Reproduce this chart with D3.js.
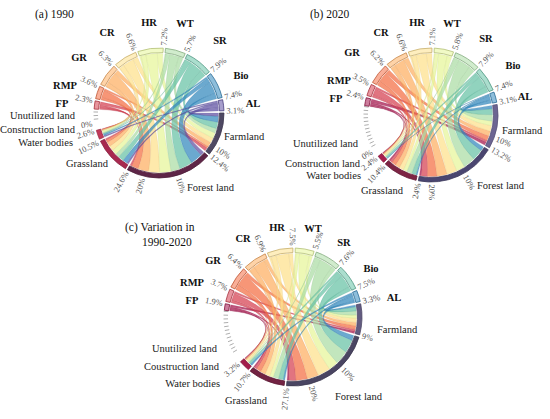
<!DOCTYPE html>
<html>
<head>
<meta charset="utf-8">
<script src="https://cdn.jsdelivr.net/npm/d3@7"></script>
<style>
  body { margin: 0; background: #fff; }
  svg { display: block; font-family: "Liberation Serif", "Times New Roman", serif; }
</style>
</head>
<body>
<div id="chart"></div>
<script>
// ecosystem services (sectors on the upper half) and land uses (lower half)
const services = ["FP", "RMP", "GR", "CR", "HR", "WT", "SR", "Bio", "AL"];
const landUses = ["Farmland", "Forest land", "Grassland", "Water bodies", "Construction land", "Unutilized land"];
const landUsesVar = ["Farmland", "Forest land", "Grassland", "Water bodies", "Coustruction land", "Unutilized land"];

// share of total value (%) per sector
const serviceTotals1990 = [2.3, 3.6, 6.3, 6.6, 7.2, 5.7, 7.9, 7.4, 3.1];
const landTotals1990 = [12.4, 24.6, 10.5, 2.6, 0, 0];
const serviceTotals2020 = [2.4, 3.5, 6.2, 6.6, 7.1, 5.8, 7.9, 7.4, 3.1];
const landTotals2020 = [13.2, 24.0, 10.4, 2.4, 0, 0];
const serviceTotalsVar = [1.9, 3.7, 6.4, 6.9, 7.5, 5.5, 7.6, 7.5, 3.3];
const landTotalsVar = [9.0, 27.1, 10.7, 3.2, 0, 0];

// flows service -> land use (Farmland, Forest land, Grassland, Water bodies), estimated
const flows1990 = [
  [1.0, 0.6, 0.5, 0.2],
  [0.6, 2.1, 0.8, 0.1],
  [1.4, 3.3, 1.4, 0.2],
  [1.5, 3.4, 1.5, 0.2],
  [1.7, 3.5, 1.5, 0.5],
  [1.4, 2.8, 1.2, 0.3],
  [2.0, 4.0, 1.7, 0.2],
  [1.8, 3.7, 1.4, 0.5],
  [1.0, 1.2, 0.5, 0.4],
];
const flows2020 = [
  [1.1, 0.6, 0.5, 0.2],
  [0.6, 2.0, 0.8, 0.1],
  [1.5, 3.1, 1.4, 0.2],
  [1.6, 3.3, 1.5, 0.2],
  [1.8, 3.3, 1.5, 0.5],
  [1.5, 2.8, 1.2, 0.3],
  [2.1, 3.9, 1.7, 0.2],
  [1.9, 3.6, 1.4, 0.5],
  [1.1, 1.4, 0.4, 0.2],
];
const flowsVar = [
  [0.7, 0.6, 0.4, 0.2],
  [0.6, 2.2, 0.8, 0.1],
  [1.1, 3.6, 1.5, 0.2],
  [1.1, 3.6, 1.6, 0.3],
  [1.3, 4.0, 1.6, 0.6],
  [1.0, 3.1, 1.1, 0.3],
  [1.3, 4.3, 1.7, 0.3],
  [1.3, 4.1, 1.5, 0.6],
  [0.6, 1.6, 0.5, 0.6],
];

const paletteA = ["#d53e4f", "#f46d43", "#fdae61", "#fee08b", "#e6f598", "#abdda4", "#66c2a5", "#3288bd", "#5e4fa2"];
const paletteB = ["#a3124a", "#d53e4f", "#f46d43", "#fdae61", "#fee08b", "#e6f598", "#abdda4", "#66c2a5", "#3288bd"];
const ringA = ["#4e4862", "#5e2547", "#a8294f", "#c33a5a"];
const ringB = ["#6c6592", "#4a4670", "#7d2444", "#a81e4d"];
const ringC = ["#625b80", "#4a4562", "#722242", "#a31d4b"];

const W = 550, H = 419;
const deg = Math.PI / 180;
const fmt = (v) => Math.round(v * 10) / 10 + "%";
const toD3 = (a) => (a + 90) * deg; // clockwise from 3 o'clock -> d3 angle
const pt = (r, a) => [r * Math.cos(a * deg), r * Math.sin(a * deg)];
const norm = (a) => ((a % 360) + 360) % 360;
const leftSide = (a) => norm(a) > 90 && norm(a) < 270;

const svg = d3.select("#chart").append("svg").attr("width", W).attr("height", H);

function drawChord({ layout, serviceTotals, landTotals, flows, palette, rings, names, nameOffsets, landLabels }) {
  const { cx, cy, R, start, blank, gap, zeroLabel } = layout;
  const sum = d3.sum(serviceTotals) + d3.sum(landTotals);
  const span = d3.scaleLinear().domain([0, sum]).range([0, 360 - blank - gap * 14]);

  const g = svg.append("g").attr("transform", `translate(${cx},${cy})`);

  // sector angles
  let a = start;
  const landSec = landTotals.slice(0, 4).map((v) => {
    const s = { a0: a, a1: a + span(v), v };
    a = s.a1 + gap;
    return s;
  });
  const blankStart = a;
  a += blank + gap;
  const servSec = serviceTotals.map((v) => {
    const s = { a0: a, a1: a + span(v), v };
    a = s.a1 + gap;
    return s;
  });

  // link segments inside sectors
  const links = [];
  flows.forEach((row, i) => {
    const s = servSec[i];
    const rowSum = d3.sum(row);
    let p = s.a0;
    [3, 2, 1, 0].forEach((j) => {
      const w = (row[j] / rowSum) * (s.a1 - s.a0);
      links.push({ i, j, s0: p, s1: p + w });
      p += w;
    });
  });
  landSec.forEach((l, j) => {
    const colSum = d3.sum(flows, (r) => r[j]);
    let p = l.a0;
    d3.range(flows.length - 1, -1, -1).forEach((i) => {
      const w = (flows[i][j] / colSum) * (l.a1 - l.a0);
      const k = links.find((d) => d.i === i && d.j === j);
      k.t0 = p;
      k.t1 = p + w;
      p += w;
    });
  });

  const rc = R - 5.5;
  const ribbon = d3.ribbon().radius(rc);
  g.selectAll(".chord")
    .data(links.filter((d) => d.s1 > d.s0))
    .join("path")
    .attr("class", "chord")
    .attr("d", (d) =>
      ribbon({
        source: { startAngle: toD3(d.s0), endAngle: toD3(d.s1) },
        target: { startAngle: toD3(d.t0), endAngle: toD3(d.t1) },
      })
    )
    .attr("fill", (d) => palette[d.i])
    .attr("fill-opacity", 0.72)
    .attr("stroke", (d) => d3.color(palette[d.i]).darker(0.6))
    .attr("stroke-opacity", 0.5)
    .attr("stroke-width", 0.3);

  // outer tracks
  const ring = d3.arc().innerRadius(R - 4.5).outerRadius(R);
  g.selectAll(".sring")
    .data(servSec)
    .join("path")
    .attr("class", "sring")
    .attr("d", (d) => ring({ startAngle: toD3(d.a0), endAngle: toD3(d.a1) }))
    .attr("fill", (d, i) => palette[i])
    .attr("fill-opacity", 0.55)
    .attr("stroke", (d, i) => d3.color(palette[i]).darker(0.7))
    .attr("stroke-width", 0.8);
  g.selectAll(".lring")
    .data(landSec.filter((d) => d.v > 0))
    .join("path")
    .attr("class", "lring")
    .attr("d", (d) => ring({ startAngle: toD3(d.a0), endAngle: toD3(d.a1) }))
    .attr("fill", (d, i) => rings[i])
    .attr("stroke", (d, i) => d3.color(rings[i]).darker(0.6))
    .attr("stroke-width", 0.8);

  // dashed ticks for the empty land uses
  g.selectAll(".dash")
    .data(d3.range(blankStart + 8, blankStart + blank + gap - 0.5, 3.2))
    .join("line")
    .attr("class", "dash")
    .attr("x1", (d) => pt(R - 4, d)[0])
    .attr("y1", (d) => pt(R - 4, d)[1])
    .attr("x2", (d) => pt(R + 0.5, d)[0])
    .attr("y2", (d) => pt(R + 0.5, d)[1])
    .attr("stroke", "#999")
    .attr("stroke-width", 0.8);

  // percentage tick labels
  const ticks = [];
  landSec.forEach((l) => {
    d3.range(10, l.v - 1.5, 10).forEach((t) => ticks.push({ a: l.a0 + span(t), t }));
    ticks.push({ a: l.a1, t: l.v });
  });
  if (zeroLabel) ticks.push({ a: blankStart + 4.5, t: 0 });
  servSec.forEach((s) => ticks.push({ a: s.a1, t: s.v }));

  g.selectAll(".tick")
    .data(ticks)
    .join("text")
    .attr("class", "tick")
    .attr("transform", (d) => {
      const [x, y] = pt(R + 2.5, d.a);
      const rot = leftSide(d.a) ? norm(d.a) - 180 : norm(d.a);
      return `translate(${x},${y}) rotate(${rot})`;
    })
    .attr("text-anchor", (d) => (leftSide(d.a) ? "end" : "start"))
    .attr("dy", "0.35em")
    .attr("font-size", 8.5)
    .attr("fill", "#555")
    .text((d) => fmt(d.t));

  // sector names
  g.selectAll(".sname")
    .data(services)
    .join("text")
    .attr("class", "sname")
    .attr("x", (d, i) => nameOffsets[i][0])
    .attr("y", (d, i) => nameOffsets[i][1])
    .attr("dy", "0.35em")
    .attr("text-anchor", "middle")
    .attr("font-size", 10.5)
    .attr("font-weight", "bold")
    .attr("fill", "#111")
    .text((d) => d);

  g.selectAll(".lname")
    .data(names)
    .join("text")
    .attr("class", "lname")
    .attr("x", (d, j) => landLabels[j][0])
    .attr("y", (d, j) => landLabels[j][1])
    .attr("text-anchor", (d, j) => landLabels[j][2])
    .attr("font-size", 10.5)
    .attr("fill", "#222")
    .text((d) => d);
}

drawChord({
  layout: { cx: 159, cy: 113, R: 65, start: 0, blank: 15, gap: 2, zeroLabel: true },
  serviceTotals: serviceTotals1990,
  landTotals: landTotals1990,
  flows: flows1990,
  palette: paletteA,
  rings: ringA,
  names: landUses,
  nameOffsets: [[-97, -10], [-94, -28], [-80, -56], [-52, -81], [-10, -91], [26, -90], [61, -73], [82, -38], [94, -10]],
  landLabels: [[65, 27, "start"], [28, 78, "start"], [-51, 54, "end"], [-86, 33, "end"], [-84, 20, "end"], [-84, 6, "end"]],
});
drawChord({
  layout: { cx: 431, cy: 115, R: 67, start: -9, blank: 42, gap: 2, zeroLabel: true },
  serviceTotals: serviceTotals2020,
  landTotals: landTotals2020,
  flows: flows2020,
  palette: paletteB,
  rings: ringB,
  names: landUses,
  nameOffsets: [[-95, -17], [-92, -35], [-79, -63], [-50, -83], [-14, -93], [21, -92], [55, -77], [82, -50], [94, -19]],
  landLabels: [[71, 19, "start"], [46, 74, "start"], [-28, 79, "end"], [-70, 64, "end"], [-71, 52, "end"], [-73, 32, "end"]],
});
drawChord({
  layout: { cx: 293, cy: 317, R: 69, start: -11, blank: 42, gap: 2, zeroLabel: false },
  serviceTotals: serviceTotalsVar,
  landTotals: landTotalsVar,
  flows: flowsVar,
  palette: paletteB,
  rings: ringC,
  names: landUsesVar,
  nameOffsets: [[-101, -17], [-101, -35], [-80, -57], [-50, -79], [-16, -90], [20, -89], [51, -75], [78, -49], [101, -20]],
  landLabels: [[84, 16, "start"], [42, 83, "start"], [-26, 87, "end"], [-73, 70, "end"], [-74, 53, "end"], [-76, 35, "end"]],
});

// panel titles
const titles = [
  { x: 35, y: 18, t: "(a) 1990" },
  { x: 310, y: 18, t: "(b) 2020" },
  { x: 125, y: 231, t: "(c) Variation in" },
  { x: 142, y: 246, t: "1990-2020" },
];
svg.selectAll(".title")
  .data(titles)
  .join("text")
  .attr("class", "title")
  .attr("x", (d) => d.x)
  .attr("y", (d) => d.y)
  .attr("font-size", 11.5)
  .attr("fill", "#111")
  .text((d) => d.t);
</script>
</body>
</html>
